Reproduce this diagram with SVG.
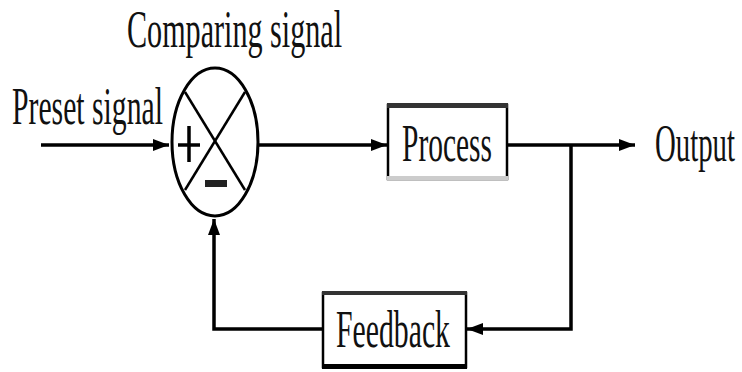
<svg xmlns="http://www.w3.org/2000/svg" width="742" height="372" viewBox="0 0 742 372">
<defs>
<marker id="arr" markerUnits="userSpaceOnUse" markerWidth="18" markerHeight="14" refX="16" refY="7" orient="auto">
<path d="M0,1 L16,7 L0,13 z" fill="#000"/>
</marker>
<style>
.lbl{font-family:"Liberation Serif","Times New Roman",serif;font-size:29px;fill:#111}
.wire{fill:none;stroke:#000;stroke-width:3.5}
.box{fill:#fff;stroke:#000;stroke-width:2.5}
</style>
</defs>
<rect width="742" height="372" fill="#fff"/>
<g id="connectors">
<path class="wire" d="M41 145 H169" marker-end="url(#arr)"/>
<path class="wire" d="M258 145 H387" marker-end="url(#arr)"/>
<path class="wire" d="M507 145 H635" marker-end="url(#arr)"/>
<path class="wire" d="M571 145 V329 H467" marker-end="url(#arr)"/>
<path class="wire" d="M323 329 H214 V219" marker-end="url(#arr)"/>
</g>
<g id="preset-label">
<text class="lbl" transform="translate(12,124) scale(1,1.8)" textLength="151" lengthAdjust="spacingAndGlyphs">Preset signal</text>
</g>
<g id="comparator">
<text class="lbl" transform="translate(127,47) scale(1,1.8)" textLength="215" lengthAdjust="spacingAndGlyphs">Comparing signal</text>
<ellipse cx="215" cy="142" rx="43" ry="74" fill="#fff" stroke="#000" stroke-width="3"/>
<line x1="185" y1="92" x2="245" y2="190" stroke="#000" stroke-width="2.5"/>
<line x1="245" y1="92" x2="185" y2="190" stroke="#000" stroke-width="2.5"/>
<line x1="178" y1="145" x2="200" y2="145" stroke="#000" stroke-width="3.5"/>
<line x1="189" y1="126" x2="189" y2="162" stroke="#000" stroke-width="3.5"/>
<rect x="205" y="180" width="22" height="7" fill="#222"/>
</g>
<g id="process">
<rect class="box" x="388" y="105" width="119" height="74"/>
<rect x="387" y="103" width="121" height="5" fill="#333"/>
<rect x="387" y="176" width="121" height="4" fill="#ccc"/>
<text class="lbl" transform="translate(402,161) scale(1,1.8)" textLength="90" lengthAdjust="spacingAndGlyphs">Process</text>
</g>
<g id="output">
<text class="lbl" transform="translate(655,161) scale(1,1.8)" textLength="80" lengthAdjust="spacingAndGlyphs">Output</text>
</g>
<g id="feedback">
<rect class="box" x="323" y="293" width="143" height="74"/>
<rect x="322" y="291" width="145" height="4" fill="#333"/>
<rect x="322" y="364" width="145" height="5" fill="#000"/>
<text class="lbl" transform="translate(336,347) scale(1,1.8)" textLength="114" lengthAdjust="spacingAndGlyphs">Feedback</text>
</g>
</svg>
